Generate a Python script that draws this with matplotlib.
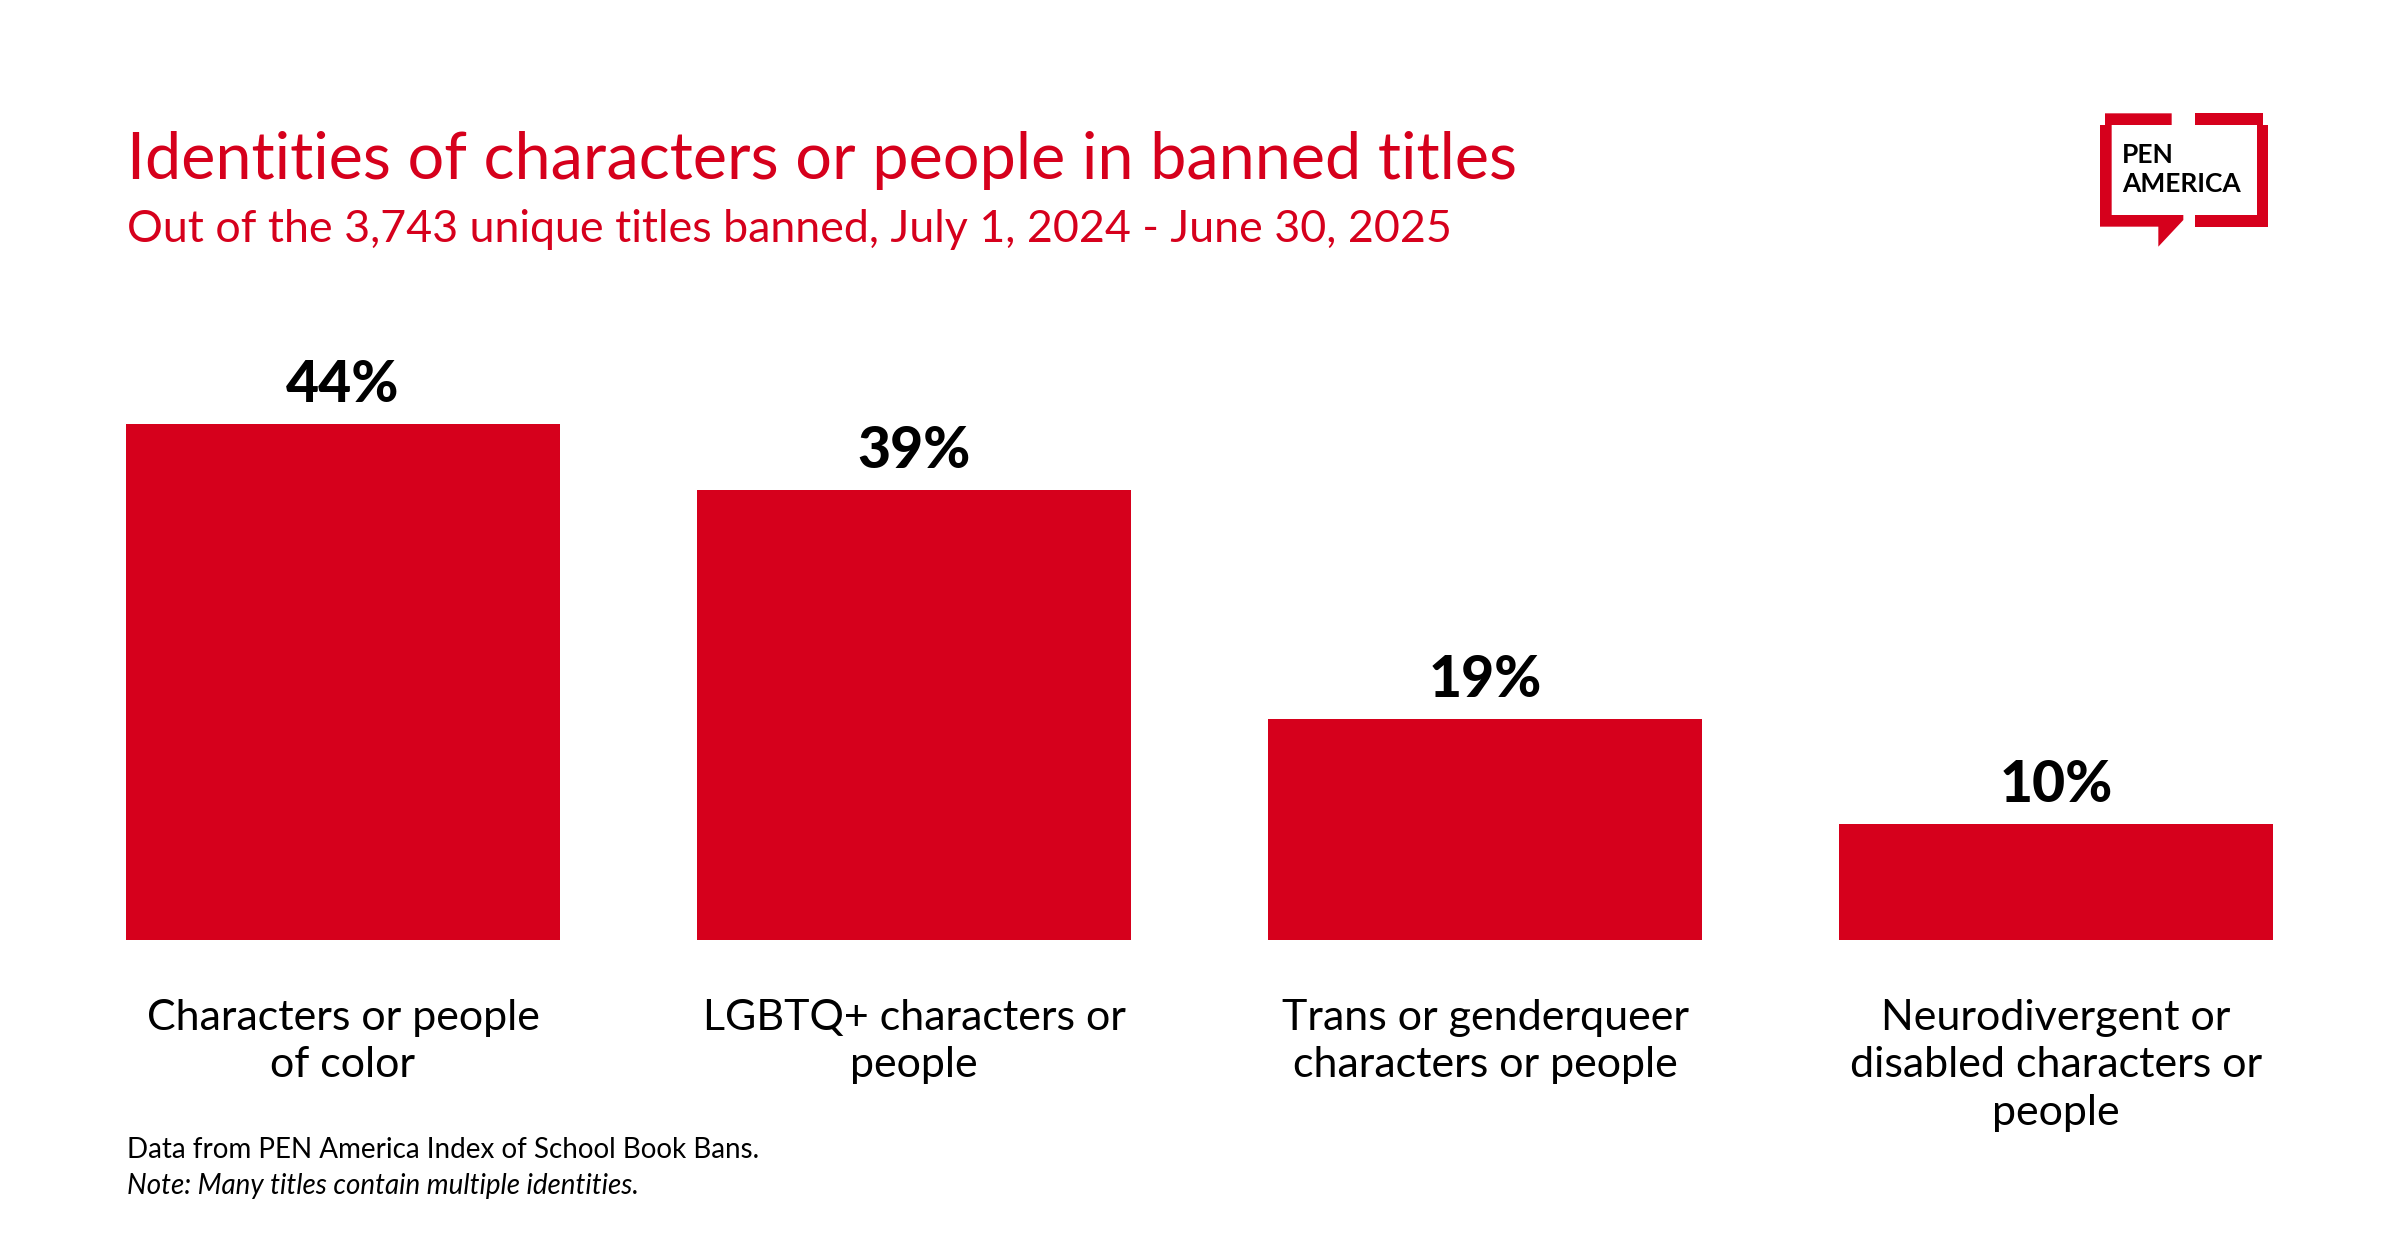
import matplotlib
matplotlib.use("Agg")
import matplotlib.pyplot as plt
from matplotlib.patches import Polygon

# ---- data ----
categories = [
    "Characters or people\nof color",
    "LGBTQ+ characters or\npeople",
    "Trans or genderqueer\ncharacters or people",
    "Neurodivergent or\ndisabled characters or\npeople",
]
values = [44.4, 38.7, 19.0, 10.0]
value_labels = ["44%", "39%", "19%", "10%"]

title = "Identities of characters or people in banned titles"
subtitle = "Out of the 3,743 unique titles banned, July 1, 2024 - June 30, 2025"
source = "Data from PEN America Index of School Book Bans."
note = "Note: Many titles contain multiple identities."

RED = "#D6001C"
FONT = "Lato"
W, H = 2400, 1260
DPI = 200

fig = plt.figure(figsize=(W / DPI, H / DPI), dpi=DPI)
fig.patch.set_facecolor("white")

# overlay axes in pixel coordinates for titles/logo
ov = fig.add_axes([0, 0, 1, 1], zorder=0)
ov.set_xlim(0, W)
ov.set_ylim(H, 0)
ov.axis("off")

# ---- bar chart axes ----
base_px, top_px = 940, 424
left_px, right_px = 126, 2273
ax = fig.add_axes([left_px / W, (H - base_px) / H, (right_px - left_px) / W,
                   (base_px - top_px) / H], zorder=1)
ax.patch.set_alpha(0)
x = list(range(len(values)))
ax.bar(x, values, width=0.76, color=RED, linewidth=0)
ax.set_xlim(-0.38, len(values) - 1 + 0.38)
ax.set_ylim(0, max(values))
ax.axis("off")

for i, (v, lab) in enumerate(zip(values, value_labels)):
    ax.annotate(lab, (i, v), xytext=(0, 22), textcoords="offset pixels",
                ha="center", va="baseline", fontsize=20.5, fontweight="black",
                family=FONT, color="black", annotation_clip=False)

for i, cat in enumerate(categories):
    ax.annotate(cat, (i, 0), xytext=(0, -59), textcoords="offset pixels",
                ha="center", va="top", fontsize=15.5, family=FONT,
                color="black", linespacing=1.3, annotation_clip=False)

# ---- titles ----
ov.text(127, 179, title, fontsize=23.3, family=FONT, color=RED,
        ha="left", va="baseline", fontweight="normal")
ov.text(127, 242, subtitle, fontsize=16.1, family=FONT, color=RED,
        ha="left", va="baseline", fontweight="normal")
ov.text(127, 1158, source, fontsize=10, family=FONT, color="black",
        ha="left", va="baseline")
ov.text(127, 1194, note, fontsize=10, family=FONT, color="black",
        ha="left", va="baseline", style="italic")

# ---- logo ----
def tf(pts):
    return [(2080 + a / 3.0, 100 + b / 3.0) for a, b in pts]

left_piece = [(75, 40), (275, 40), (275, 75), (95, 75), (95, 345), (310, 345),
              (310, 360), (235, 440), (235, 380), (60, 380), (60, 75), (75, 75)]
right_piece = [(345, 40), (550, 40), (550, 75), (565, 75), (565, 380), (345, 380),
               (345, 345), (530, 345), (530, 75), (345, 75)]
for pc in (left_piece, right_piece):
    ov.add_patch(Polygon(tf(pc), closed=True, facecolor=RED, edgecolor="none"))
ov.text(2122, 163, "PEN", fontsize=9.5, fontweight="bold", family=FONT,
        color="black", ha="left", va="baseline")
ov.text(2122, 192, "AMERICA", fontsize=9.5, fontweight="bold", family=FONT,
        color="black", ha="left", va="baseline")

fig.savefig("out.png", dpi=DPI, facecolor="white")
